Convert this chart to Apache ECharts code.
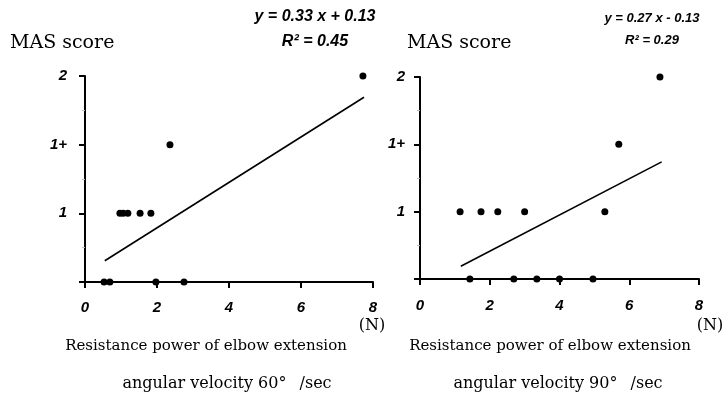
<!DOCTYPE html>
<html>
<head>
<meta charset="utf-8">
<script src="https://cdn.jsdelivr.net/npm/echarts@6/dist/echarts.min.js"></script>
<style>
  html, body { margin: 0; padding: 0; background: #fff; }
  #chart { width: 726px; height: 395px; }
</style>
</head>
<body>
<div id="chart"></div>
<script>
// MAS score levels, index 0..3 on the y axis
const scoreLabels = ['', '1', '1+', '2']
const xTicks = [0, 2, 4, 6, 8]

// 60 deg/sec panel
const pts60X = [7.72, 2.36, 0.97, 1.06, 1.19, 1.53, 1.83, 0.53, 0.69, 1.97, 2.75]
const pts60Y = [3, 2, 1, 1, 1, 1, 1, 0, 0, 0, 0]
const fit60 = [[0.55, 0.31], [7.75, 2.69]]

// 90 deg/sec panel
const pts90X = [6.88, 5.70, 1.15, 1.75, 2.23, 3.00, 5.30, 1.43, 2.69, 3.35, 4.00, 4.96]
const pts90Y = [3, 2, 1, 1, 1, 1, 1, 0, 0, 0, 0, 0]
const fit90 = [[1.17, 0.19], [6.93, 1.74]]

const serif = '"DejaVu Serif", "Liberation Serif", serif'
const sans = '"Liberation Sans", Arial, sans-serif'

function zip(xs, ys) {
  return xs.map((x, i) => [x, ys[i]])
}

function xAxisOf(idx, margin) {
  return {
    type: 'value',
    gridIndex: idx,
    min: xTicks[0],
    max: xTicks[xTicks.length - 1],
    interval: 2,
    splitLine: { show: false },
    axisLine: { lineStyle: { color: '#000', width: 2 } },
    axisTick: { length: 6, lineStyle: { color: '#000', width: 2 } },
    axisLabel: {
      margin: margin,
      color: '#000',
      fontFamily: sans,
      fontSize: 15,
      fontWeight: 'bold',
      fontStyle: 'italic'
    }
  }
}

function yAxisOf(idx, margin) {
  return {
    type: 'value',
    gridIndex: idx,
    min: 0,
    max: 3,
    interval: 1,
    splitLine: { show: false },
    axisLine: { show: true, lineStyle: { color: '#000', width: 2 } },
    axisTick: { show: true, length: 6, lineStyle: { color: '#000', width: 2 } },
    minorTick: { show: true, splitNumber: 2, length: 3, lineStyle: { color: '#bbb', width: 1 } },
    axisLabel: {
      margin: margin,
      color: '#000',
      fontFamily: sans,
      fontSize: 15,
      fontWeight: 'bold',
      fontStyle: 'italic',
      formatter: v => scoreLabels[v]
    }
  }
}

function txt(x, y, text, family, size, extra) {
  return {
    type: 'text',
    x: x,
    y: y,
    style: Object.assign({
      text: text,
      fill: '#000',
      fontFamily: family,
      fontSize: size,
      align: 'center',
      verticalAlign: 'middle'
    }, extra || {})
  }
}

const eqStyle = { fontWeight: 'bold', fontStyle: 'italic' }

const chart = echarts.init(document.getElementById('chart'))
const option = {
  animation: false,
  backgroundColor: '#fff',
  grid: [
    { left: 85, top: 76, width: 288, height: 206 },
    { left: 420, top: 77, width: 279, height: 202 }
  ],
  xAxis: [xAxisOf(0, 18), xAxisOf(1, 19)],
  yAxis: [yAxisOf(0, 18), yAxisOf(1, 15)],
  series: [
    {
      type: 'scatter', xAxisIndex: 0, yAxisIndex: 0,
      data: zip(pts60X, pts60Y), symbolSize: 7,
      itemStyle: { color: '#000', opacity: 1 }, z: 3
    },
    {
      type: 'line', xAxisIndex: 0, yAxisIndex: 0,
      data: fit60, showSymbol: false,
      lineStyle: { color: '#000', width: 1.6 }
    },
    {
      type: 'scatter', xAxisIndex: 1, yAxisIndex: 1,
      data: zip(pts90X, pts90Y), symbolSize: 7,
      itemStyle: { color: '#000', opacity: 1 }, z: 3
    },
    {
      type: 'line', xAxisIndex: 1, yAxisIndex: 1,
      data: fit90, showSymbol: false,
      lineStyle: { color: '#000', width: 1.6 }
    }
  ],
  graphic: [
    txt(10, 43, 'MAS score', serif, 19, { align: 'left' }),
    txt(407, 43, 'MAS score', serif, 19, { align: 'left' }),
    txt(315, 17, 'y = 0.33 x + 0.13', sans, 16, eqStyle),
    txt(315, 42, 'R² = 0.45', sans, 16, eqStyle),
    txt(652, 18, 'y = 0.27 x - 0.13', sans, 13, eqStyle),
    txt(652, 40, 'R² = 0.29', sans, 13, eqStyle),
    txt(372, 326, '(N)', serif, 16),
    txt(710, 326, '(N)', serif, 16),
    txt(206, 346, 'Resistance power of elbow extension', serif, 15),
    txt(550, 346, 'Resistance power of elbow extension', serif, 15),
    txt(227, 384, 'angular velocity 60° \u2002/sec', serif, 16),
    txt(558, 384, 'angular velocity 90° \u2002/sec', serif, 16)
  ]
}
chart.setOption(option)
</script>
</body>
</html>
